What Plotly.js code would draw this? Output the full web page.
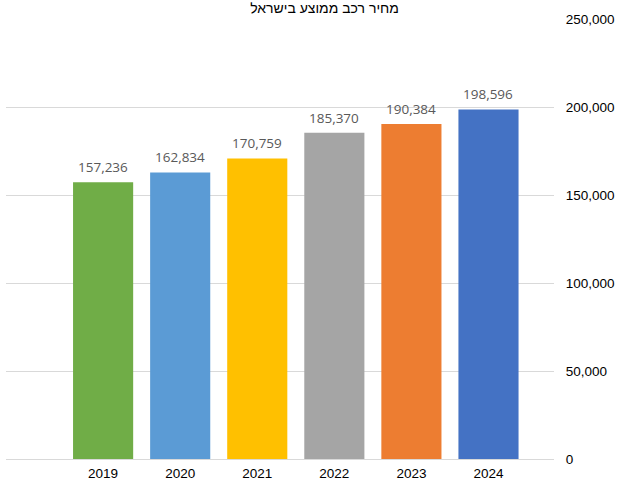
<!DOCTYPE html>
<html>
<head>
<meta charset="utf-8">
<script src="https://cdn.plot.ly/plotly-3.0.1.min.js"></script>
<style>
  html, body { margin: 0; padding: 0; background: #fff; }
  #chart { width: 640px; height: 480px; }
</style>
</head>
<body>
<div id="chart"></div>
<script>
// average car price in Israel, by year
var years = ['2019', '2020', '2021', '2022', '2023', '2024'];
var prices = [157236, 162834, 170759, 185370, 190384, 198596];
var barColors = ['#70AD47', '#5B9BD5', '#FFC000', '#A5A5A5', '#ED7D31', '#4472C4'];
var yTicks = [0, 50000, 100000, 150000, 200000, 250000];

var fmt = function (v) { return v.toLocaleString('en-US'); };

var data = [{
    x: years,
    y: prices,
    type: 'bar',
    marker: { color: barColors },
    hoverinfo: 'none'
}];

// value labels above each bar
var labels = years.map(function (yr, i) {
    return {
        x: i,
        y: prices[i],
        xref: 'x',
        yref: 'y',
        text: fmt(prices[i]),
        showarrow: false,
        yanchor: 'bottom',
        yshift: 4,
        font: { family: 'Open Sans, sans-serif', size: 13.5, color: '#595959' }
    };
});

var layout = {
    width: 640,
    height: 480,
    margin: { l: 6, r: 86, t: 19, b: 21 },
    paper_bgcolor: '#fff',
    plot_bgcolor: '#fff',
    showlegend: false,
    bargap: 0.22,
    annotations: labels,
    title: {
        text: 'מחיר רכב ממוצע בישראל',
        x: 372 / 640,
        xref: 'paper',
        xanchor: 'center',
        y: 0.984,
        yanchor: 'middle',
        font: { family: 'Liberation Sans, Arial, sans-serif', size: 14, color: '#000' }
    },
    xaxis: {
        type: 'category',
        range: [-1.26, 5.85],
        showgrid: false,
        showline: false,
        zeroline: false,
        ticks: '',
        ticklabelstandoff: 4,
        tickfont: { family: 'Liberation Sans, Arial, sans-serif', size: 13.5, color: '#000' }
    },
    yaxis: {
        side: 'right',
        range: [0, 250000],
        tickvals: yTicks,
        ticktext: yTicks.map(fmt),
        showgrid: true,
        gridcolor: '#d9d9d9',
        gridwidth: 1,
        zeroline: true,
        zerolinecolor: '#d9d9d9',
        zerolinewidth: 1,
        showline: false,
        ticks: 'outside',
        ticklen: 8,
        tickcolor: 'rgba(0,0,0,0)',
        tickfont: { family: 'Liberation Sans, Arial, sans-serif', size: 13.5, color: '#000' }
    }
};

Plotly.newPlot('chart', data, layout, { staticPlot: true, displayModeBar: false });
</script>
</body>
</html>
